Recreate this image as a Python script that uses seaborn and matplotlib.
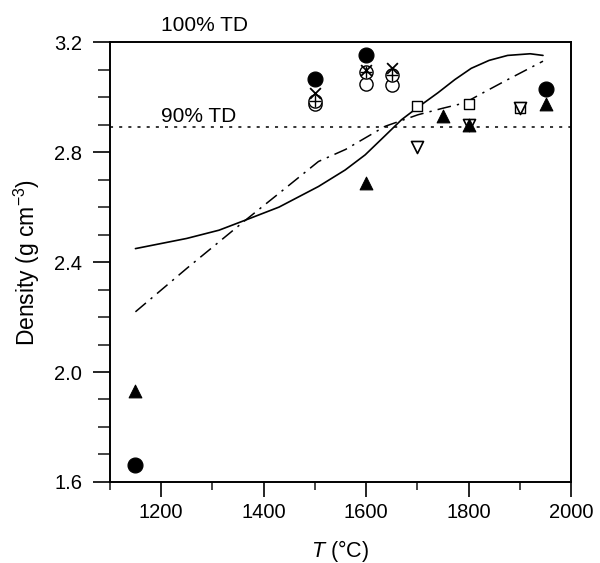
import matplotlib
matplotlib.use("Agg")
import matplotlib.pyplot as plt
import seaborn as sns
from matplotlib.ticker import MultipleLocator, FormatStrFormatter

# ---- data ----
solid_T = [1150, 1250, 1313, 1365, 1430, 1507, 1559, 1598, 1637, 1669, 1700, 1740, 1773, 1805, 1840, 1876, 1920, 1945]
solid_D = [2.449, 2.486, 2.516, 2.553, 2.60, 2.675, 2.735, 2.79, 2.86, 2.918, 2.962, 3.016, 3.064, 3.105, 3.134, 3.152, 3.158, 3.152]

dash_T = [1150, 1252, 1365, 1430, 1507, 1560, 1637, 1701, 1750, 1792, 1830, 1870, 1945]
dash_D = [2.219, 2.38, 2.553, 2.65, 2.766, 2.81, 2.894, 2.936, 2.96, 2.979, 3.018, 3.058, 3.131]

fcirc_T = [1150, 1500, 1600, 1950]
fcirc_D = [1.66, 3.065, 3.152, 3.03]

ftri_T = [1150, 1600, 1750, 1800, 1950]
ftri_D = [1.93, 2.687, 2.93, 2.90, 2.975]

osq_T = [1700, 1800, 1900]
osq_D = [2.967, 2.975, 2.962]

otri_T = [1700, 1800, 1900]
otri_D = [2.82, 2.90, 2.96]

x_T = [1500, 1600, 1650]
x_D = [3.015, 3.10, 3.105]

cplus_T = [1500, 1600, 1650]
cplus_D = [2.985, 3.09, 3.08]

ocirc_T = [1500, 1600, 1650]
ocirc_D = [2.975, 3.047, 3.046]

td90 = 2.89

sns.set_theme(style="ticks")
plt.rcParams['font.family'] = ['Liberation Sans', 'DejaVu Sans']
plt.rcParams['mathtext.fontset'] = 'custom'
plt.rcParams['mathtext.it'] = 'Liberation Sans:italic'
plt.rcParams['mathtext.rm'] = 'Liberation Sans'

FS = 14.5

fig = plt.figure(figsize=(6.0, 5.63), dpi=100)
ax = fig.add_axes([0.183, 0.144, 0.769, 0.781])

sns.lineplot(x=solid_T, y=solid_D, ax=ax, color='black', lw=1.2, sort=False)
sns.lineplot(x=dash_T, y=dash_D, ax=ax, color='black', lw=1.1, sort=False,
             linestyle=(0, (9, 4, 1.5, 4)))
ax.axhline(td90, color='black', lw=1.1, linestyle=(0, (2, 4)))

def pts(T, D, **kw):
    sns.scatterplot(x=T, y=D, ax=ax, legend=False, zorder=3, **kw)

pts(ocirc_T, ocirc_D, marker='o', s=90, facecolor='white', edgecolor='black', linewidth=1.0)
pts(cplus_T, cplus_D, marker='o', s=90, facecolor='white', edgecolor='black', linewidth=1.0)
pts(cplus_T, cplus_D, marker='+', s=75, color='black', linewidth=1.0)
pts(x_T, x_D, marker='x', s=60, color='black', linewidth=1.3)
pts(fcirc_T, fcirc_D, marker='o', s=115, color='black', edgecolor='black')
pts(osq_T, osq_D, marker='s', s=55, facecolor='white', edgecolor='black', linewidth=1.0)
pts(otri_T, otri_D, marker='v', s=75, facecolor='white', edgecolor='black', linewidth=1.2)
pts(ftri_T, ftri_D, marker='^', s=85, color='black', edgecolor='black')

ax.set_xlim(1100, 2000)
ax.set_ylim(1.6, 3.2)
ax.xaxis.set_major_locator(MultipleLocator(200))
ax.xaxis.set_minor_locator(MultipleLocator(100))
ax.yaxis.set_major_locator(MultipleLocator(0.4))
ax.yaxis.set_minor_locator(MultipleLocator(0.1))
ax.yaxis.set_major_formatter(FormatStrFormatter('%.1f'))
ax.tick_params(which='major', direction='out', width=1.2, labelsize=FS, colors='black')
ax.tick_params(axis='x', which='major', length=11, pad=4)
ax.tick_params(axis='x', which='minor', direction='out', length=6, width=1.2)
ax.tick_params(axis='y', which='major', length=12, pad=8)
ax.tick_params(axis='y', which='minor', direction='out', length=8.4, width=1.2)
for sp in ax.spines.values():
    sp.set_visible(True)
    sp.set_linewidth(1.4)
    sp.set_color('black')

ax.set_xlabel(r'$\it{T}$ (°C)', fontsize=FS + 1, color='black', labelpad=12)
ax.set_ylabel(r'Density (g cm$^{-3}$)', fontsize=FS + 2, color='black', labelpad=9)

ax.text(1200, 2.91, '90% TD', fontsize=FS + 0.5, color='black', ha='left', va='baseline')
ax.text(1200, 3.24, '100% TD', fontsize=FS + 0.5, color='black', ha='left', va='baseline', clip_on=False)

fig.savefig('out.png', dpi=100)
